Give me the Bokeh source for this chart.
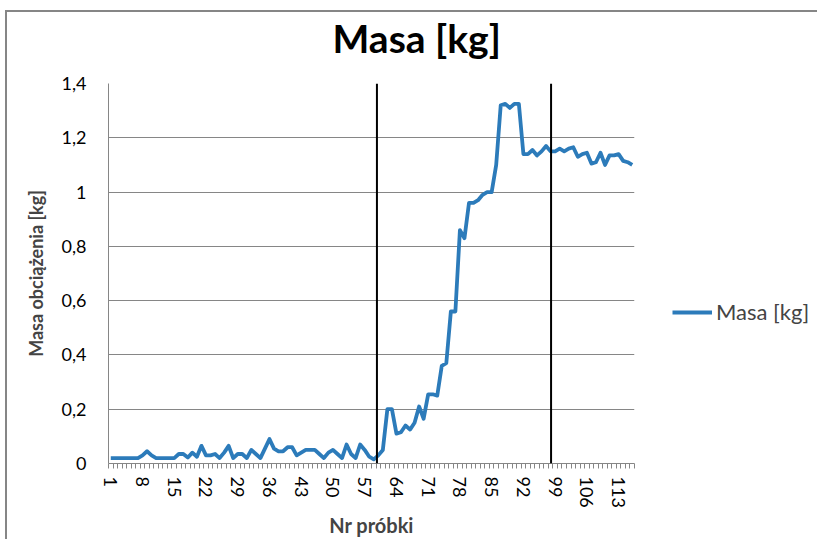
from bokeh.plotting import figure
from bokeh.models import Range1d, FixedTicker, Span, Legend, LegendItem, Title
from bokeh.embed import file_html
from bokeh.resources import INLINE

masa = [0.02, 0.02, 0.02, 0.02, 0.02, 0.02, 0.02, 0.03, 0.045, 0.03,
        0.02, 0.02, 0.02, 0.02, 0.02, 0.035, 0.035, 0.022, 0.04, 0.025,
        0.065, 0.03, 0.03, 0.035, 0.02, 0.04, 0.065, 0.02, 0.035, 0.035,
        0.02, 0.05, 0.035, 0.02, 0.055, 0.09, 0.055, 0.045, 0.045, 0.06,
        0.06, 0.03, 0.04, 0.05, 0.05, 0.05, 0.035, 0.02, 0.04, 0.05,
        0.035, 0.02, 0.07, 0.035, 0.02, 0.07, 0.05, 0.025, 0.015, 0.03,
        0.05, 0.2, 0.2, 0.11, 0.115, 0.14, 0.125, 0.15, 0.21, 0.165,
        0.255, 0.255, 0.25, 0.36, 0.37, 0.56, 0.56, 0.86, 0.83, 0.96,
        0.96, 0.97, 0.99, 1.0, 1.0, 1.1, 1.32, 1.325, 1.31, 1.325,
        1.325, 1.14, 1.14, 1.155, 1.135, 1.15, 1.17, 1.15, 1.15, 1.16,
        1.15, 1.16, 1.165, 1.13, 1.14, 1.145, 1.105, 1.11, 1.145, 1.1,
        1.135, 1.135, 1.14, 1.115, 1.11, 1.1]
probki = list(range(1, len(masa) + 1))
x_tick_labels = list(range(1, len(masa) + 1, 7))
y_ticks = [0, 0.2, 0.4, 0.6, 0.8, 1.0, 1.2, 1.4]
y_tick_labels = ["0", "0,2", "0,4", "0,6", "0,8", "1", "1,2", "1,4"]
markers = [59.7, 98.1]

FONT = "Lato"
GREY = "#868686"
BLUE = "#2C7BBA"

p = figure(frame_width=526, frame_height=380, output_backend="svg", toolbar_location=None,
           x_range=Range1d(0.5, len(masa) + 0.5), y_range=Range1d(0, 1.4),
           min_border_left=101, min_border_right=179, min_border_top=70,
           min_border_bottom=76, tools="")
p.styles = {"border-top": "2px solid #868686", "border-left": "2px solid #868686",
            "border-right": "2px solid #868686", "margin-left": "5px",
            "margin-top": "10px"}
p.outline_line_color = None
p.background_fill_color = "white"

# main title (outermost panel)
p.title.text = "Masa [kg]"
p.title.align = "left"
p.title.offset = 224
p.title.standoff = 0
p.title.text_font = FONT
p.title.text_font_size = "39px"
p.title.text_font_style = "bold"
p.title.text_color = "black"

# spacer between the title and the plot area
spacer = Title(text=" ", text_font_size="1px", standoff=20)
p.add_layout(spacer, "above")

line = p.line(probki, masa, line_color=BLUE, line_width=3.8, line_join="round")

for m in markers:
    p.add_layout(Span(location=m, dimension="height", line_color="black", line_width=2))

# x axis
xa = p.xaxis[0]
xa.ticker = FixedTicker(ticks=x_tick_labels,
                        minor_ticks=[k + 0.5 for k in range(0, len(masa) + 1)])
xa.major_tick_out = 0
xa.major_tick_in = 0
xa.minor_tick_out = 5
xa.minor_tick_in = 0
xa.minor_tick_line_color = GREY
xa.axis_line_color = GREY
xa.major_label_orientation = "vertical"
xa.major_label_text_font = FONT
xa.major_label_text_font_size = "18px"
xa.major_label_text_color = "black"
xa.major_label_standoff = 8
xa.axis_label = "Nr próbki"
xa.axis_label_text_font = FONT
xa.axis_label_text_font_size = "20px"
xa.axis_label_text_font_style = "bold"
xa.axis_label_standoff = 2

ya = p.yaxis[0]
ya.ticker = FixedTicker(ticks=y_ticks)
ya.major_label_overrides = dict(zip(y_ticks, y_tick_labels))
ya.major_tick_out = 0
ya.major_tick_in = 0
ya.minor_tick_line_color = None
ya.axis_line_color = GREY
ya.major_label_text_font = FONT
ya.major_label_text_font_size = "18px"
ya.major_label_text_color = "black"
ya.major_label_standoff = 22
ya.axis_label = "Masa obciążenia [kg]"
ya.axis_label_text_font = FONT
ya.axis_label_text_font_size = "18px"
ya.axis_label_text_font_style = "bold"
ya.axis_label_standoff = 12

p.xgrid.grid_line_color = None
p.ygrid.ticker = FixedTicker(ticks=y_ticks)
p.ygrid.grid_line_color = GREY
p.ygrid.grid_line_width = 1

legend = Legend(items=[LegendItem(label="Masa [kg]", renderers=[line])],
                location=(38, 138), orientation="vertical")
legend.glyph_width = 40
legend.glyph_height = 20
legend.label_text_font = FONT
legend.label_text_font_size = "22px"
legend.label_standoff = 4
legend.padding = 0
legend.margin = 0
legend.border_line_color = None
legend.background_fill_alpha = 0
p.add_layout(legend, "right")

open("out.html", "w").write(file_html(p, INLINE))
